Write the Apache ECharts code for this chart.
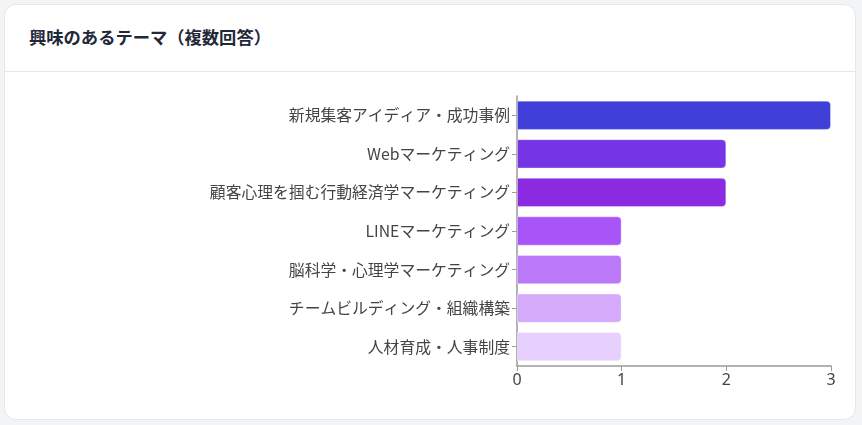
<!DOCTYPE html>
<html><head><meta charset="utf-8">
<script src="https://cdn.jsdelivr.net/npm/echarts@6/dist/echarts.min.js"></script>
<style>
html,body{margin:0;padding:0;background:#f3f4f6;width:862px;height:425px;overflow:hidden;font-family:"Noto Sans CJK JP","Noto Sans",sans-serif;}
#card{position:absolute;left:4px;top:4px;width:850px;height:414px;background:#fff;border:1px solid #e5e7eb;border-radius:12px;}
#head{position:absolute;left:0;top:0;width:850px;height:66px;border-bottom:1px solid #e5e7eb;}
#title{position:absolute;left:24px;top:20px;font-size:17.3px;font-weight:bold;color:#1f2937;line-height:24px;}
#chart{position:absolute;left:0;top:0;width:862px;height:425px;}
</style></head>
<body>
<div id="card"><div id="head"><div id="title">興味のあるテーマ（複数回答）</div></div></div>
<div id="chart"></div>
<script>
const categories = ["新規集客アイディア・成功事例","Webマーケティング","顧客心理を掴む行動経済学マーケティング","LINEマーケティング","脳科学・心理学マーケティング","チームビルディング・組織構築","人材育成・人事制度"];
const values = [3,2,2,1,1,1,1];
const colors = ["#4040d9","#7535e6","#8a2be2","#a855f7","#bb78f8","#d5aafb","#e8d0fe"];
const xTicks = [0,1,2,3];

const chart = echarts.init(document.getElementById('chart'), null, {renderer:'canvas'});
chart.setOption({
  backgroundColor:'transparent',
  animation:false,
  grid:{left:517, right:31, top:96, bottom:59, containLabel:false},
  xAxis:{type:'value', min:xTicks[0], max:xTicks[xTicks.length-1], interval:1,
    axisLine:{show:true, lineStyle:{color:'#9a9a9a', width:1.5}},
    axisTick:{show:true, length:5, lineStyle:{color:'#9a9a9a'}},
    axisLabel:{color:'#444', fontSize:16, margin:6, fontFamily:'"Noto Sans","Noto Sans CJK JP",sans-serif'},
    splitLine:{show:false}},
  yAxis:{type:'category', data:categories, inverse:true,
    axisLine:{show:true, lineStyle:{color:'#9a9a9a', width:1.5}},
    axisTick:{show:true, length:5, alignWithLabel:true, lineStyle:{color:'#9a9a9a'}},
    axisLabel:{color:'#444', fontSize:15.8, margin:7, fontFamily:'"Noto Sans CJK JP",sans-serif'}},
  series:[{type:'bar', barCategoryGap:'24%',
    data: values.map((v,i)=>({value:v, itemStyle:{color:colors[i]}})),
    itemStyle:{borderRadius:[0,4,4,0], borderColor:'rgba(255,255,255,0.35)', borderWidth:1}}]
});
</script>
</body></html>
